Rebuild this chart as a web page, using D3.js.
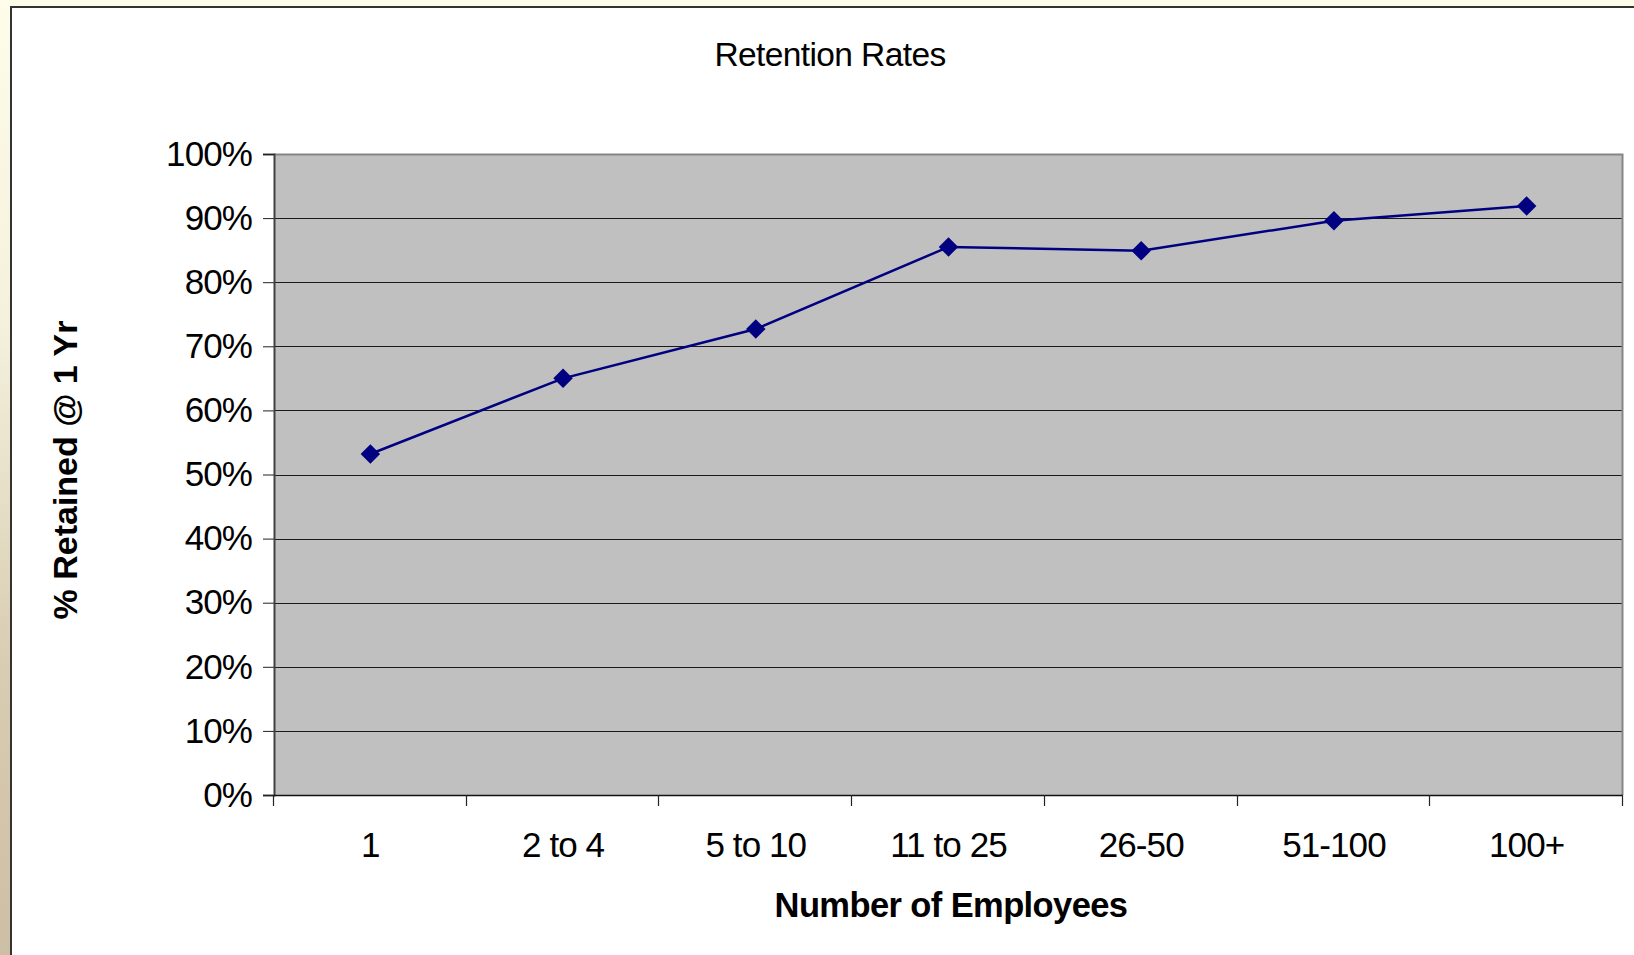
<!DOCTYPE html>
<html>
<head>
<meta charset="utf-8">
<script src="https://cdn.jsdelivr.net/npm/d3@7"></script>
<style>
  body { margin: 0; background: #fdfde9; }
  svg { display: block; font-family: "Liberation Sans", Arial, sans-serif; }
</style>
</head>
<body>
<svg width="1634" height="955"></svg>
<script>
var categories = ["1", "2 to 4", "5 to 10", "11 to 25", "26-50", "51-100", "100+"];
var retained = [0.532, 0.650, 0.727, 0.855, 0.849, 0.896, 0.919];
var yTicks = [0, 0.1, 0.2, 0.3, 0.4, 0.5, 0.6, 0.7, 0.8, 0.9, 1.0];

var formatPercent = d3.format(".0%");
var svg = d3.select("svg");

// slide background: pale yellow with a tan strip at the lower left
var grad = svg.append("defs").append("linearGradient")
  .attr("id", "strip").attr("x1", 0).attr("y1", 0).attr("x2", 0).attr("y2", 1);
grad.append("stop").attr("offset", "0%").attr("stop-color", "#fdfde9");
grad.append("stop").attr("offset", "35%").attr("stop-color", "#f4f0dc");
grad.append("stop").attr("offset", "70%").attr("stop-color", "#d8ccb2");
grad.append("stop").attr("offset", "100%").attr("stop-color", "#cdbfa3");
svg.append("rect").attr("x", 0).attr("y", 0).attr("width", 12).attr("height", 955)
  .attr("fill", "url(#strip)");

// white chart panel
svg.append("rect")
  .attr("x", 11).attr("y", 7).attr("width", 1640).attr("height", 960)
  .attr("fill", "#fff").attr("stroke", "#333").attr("stroke-width", 2);

var plotLeft = 274, plotRight = 1623, plotTop = 154, plotBottom = 795;

var xScale = d3.scaleBand().domain(categories).range([plotLeft, plotRight]);
var yScale = d3.scaleLinear().domain([0, 1]).range([plotBottom, plotTop]);

// plot area
svg.append("rect")
  .attr("x", plotLeft).attr("y", plotTop)
  .attr("width", plotRight - plotLeft).attr("height", plotBottom - plotTop)
  .attr("fill", "#c0c0c0");

// gridlines
svg.append("g").selectAll("line")
  .data(yTicks.slice(1, -1))
  .join("line")
  .attr("x1", plotLeft).attr("x2", plotRight)
  .attr("y1", d => Math.round(yScale(d)) + 0.5)
  .attr("y2", d => Math.round(yScale(d)) + 0.5)
  .attr("stroke", "#1a1a1a").attr("stroke-width", 1.2);

// top and right border of the plot
svg.append("path")
  .attr("d", "M" + plotLeft + "," + (plotTop + 0.5) + "H" + (plotRight - 0.5) + "V" + plotBottom)
  .attr("fill", "none").attr("stroke", "#858585").attr("stroke-width", 2);

// y axis
var yAxis = d3.axisLeft(yScale)
  .tickValues(yTicks)
  .tickSize(11)
  .tickPadding(11)
  .tickFormat(formatPercent);

var yG = svg.append("g")
  .attr("transform", "translate(" + plotLeft + ",0)")
  .call(yAxis);
yG.select(".domain").attr("stroke", "#404040").attr("stroke-width", 2);
yG.selectAll(".tick line").attr("stroke", "#222");
yG.selectAll(".tick text")
  .attr("font-size", 35).attr("fill", "#000")
  .attr("font-family", "Liberation Sans, Arial, sans-serif")
  .attr("letter-spacing", -0.9);

// x axis: labels centred in bands, ticks at band edges
var xAxis = d3.axisBottom(xScale).tickSize(0).tickPadding(37);
var xG = svg.append("g")
  .attr("transform", "translate(0," + plotBottom + ")")
  .call(xAxis);
xG.select(".domain").remove();
xG.selectAll(".tick text")
  .attr("font-size", 35).attr("fill", "#000")
  .attr("font-family", "Liberation Sans, Arial, sans-serif")
  .attr("letter-spacing", -0.9);

svg.append("line")
  .attr("x1", plotLeft).attr("x2", plotRight)
  .attr("y1", plotBottom + 0.5).attr("y2", plotBottom + 0.5)
  .attr("stroke", "#111").attr("stroke-width", 1.5);

var edges = categories.map(c => xScale(c)).concat([plotRight]);
svg.append("g").selectAll("line")
  .data(edges)
  .join("line")
  .attr("x1", d => Math.round(d) - 0.5).attr("x2", d => Math.round(d) - 0.5)
  .attr("y1", plotBottom).attr("y2", plotBottom + 11)
  .attr("stroke", "#222").attr("stroke-width", 1.2);

// series line
var line = d3.line()
  .x((d, i) => xScale(categories[i]) + xScale.bandwidth() / 2)
  .y(d => yScale(d));

svg.append("path")
  .datum(retained)
  .attr("d", line)
  .attr("fill", "none")
  .attr("stroke", "#000080")
  .attr("stroke-width", 2.5);

// diamond markers
var diamond = d3.symbol().type(d3.symbolSquare).size(190);
svg.append("g").selectAll("path")
  .data(retained)
  .join("path")
  .attr("d", diamond)
  .attr("transform", (d, i) => "translate(" + (xScale(categories[i]) + xScale.bandwidth() / 2) + "," + yScale(d) + ") rotate(45)")
  .attr("fill", "#000080");

// titles
svg.append("text")
  .attr("x", 830).attr("y", 66)
  .attr("text-anchor", "middle")
  .attr("font-size", 33.5)
  .attr("letter-spacing", -0.6)
  .text("Retention Rates");

svg.append("text")
  .attr("x", 951).attr("y", 917)
  .attr("text-anchor", "middle")
  .attr("font-size", 34.5)
  .attr("font-weight", "bold")
  .attr("letter-spacing", -0.6)
  .text("Number of Employees");

svg.append("text")
  .attr("transform", "translate(77,470) rotate(-90)")
  .attr("text-anchor", "middle")
  .attr("font-size", 34)
  .attr("font-weight", "bold")
  .text("% Retained @ 1 Yr");
</script>
</body>
</html>
